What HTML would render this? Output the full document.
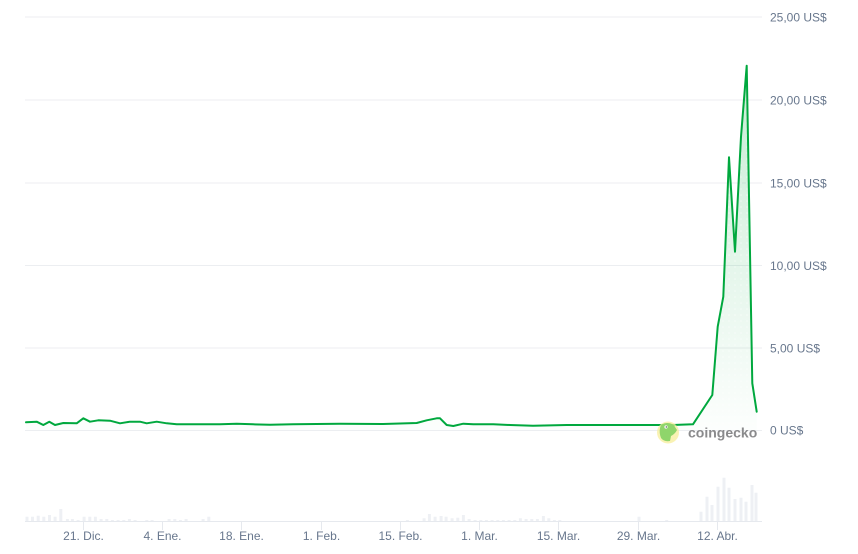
<!DOCTYPE html>
<html>
<head>
<meta charset="utf-8">
<style>
html,body{margin:0;padding:0;background:#fff;}
svg{display:block;}
text{font-family:"Liberation Sans",sans-serif;}
</style>
</head>
<body>
<svg width="858" height="554" viewBox="0 0 858 554" xmlns="http://www.w3.org/2000/svg">
<defs>
<linearGradient id="fillg" x1="0" y1="66" x2="0" y2="430" gradientUnits="userSpaceOnUse">
<stop offset="0" stop-color="#00a83e" stop-opacity="0.22"/>
<stop offset="1" stop-color="#00a83e" stop-opacity="0.01"/>
</linearGradient>
<pattern id="dots" width="6" height="6" patternUnits="userSpaceOnUse">
<circle cx="3" cy="3" r="0.8" fill="#fff" fill-opacity="0.5"/>
</pattern>
<path id="price" d="M26,422.3 L36.7,421.7 L43.3,425 L49.3,421.7 L55,425 L63.3,423 L76.7,423.3 L83.3,418.3 L90,421.7 L98.3,420.3 L110,420.7 L120,423.3 L130,421.7 L140,421.7 L146.7,423.3 L156.7,421.7 L166.7,423.3 L176.7,424.3 L186.7,424.3 L220,424.3 L236.7,423.7 L253,424.3 L270,424.7 L293,424.3 L340,423.7 L383,424 L416.7,423 L426.7,420.3 L436.7,418.3 L440,418.3 L446.7,425 L453.3,426 L463.3,423.7 L473.3,424.3 L493.3,424.3 L510,425 L533,425.7 L566.7,425 L633,425 L673,425 L693,424.3 L712.3,395 L717.7,326.7 L723.3,296.7 L729,157.3 L735,251.7 L741,136.7 L746.7,65.7 L752.3,383.3 L756.7,411.7"/>
</defs>

<path d="M25 17H762M25 100H762M25 183H762M25 265.5H762M25 348H762M25 430.5H762" stroke="#eceef1" stroke-width="1" fill="none"/>

<g fill="#68778d" font-size="12">
<text x="770" y="21.5">25,00 US$</text>
<text x="770" y="104.5">20,00 US$</text>
<text x="770" y="187.5">15,00 US$</text>
<text x="770" y="270">10,00 US$</text>
<text x="770" y="352.5">5,00 US$</text>
<text x="770" y="434.5">0 US$</text>
</g>

<path d="M26,422.3 L36.7,421.7 L43.3,425 L49.3,421.7 L55,425 L63.3,423 L76.7,423.3 L83.3,418.3 L90,421.7 L98.3,420.3 L110,420.7 L120,423.3 L130,421.7 L140,421.7 L146.7,423.3 L156.7,421.7 L166.7,423.3 L176.7,424.3 L186.7,424.3 L220,424.3 L236.7,423.7 L253,424.3 L270,424.7 L293,424.3 L340,423.7 L383,424 L416.7,423 L426.7,420.3 L436.7,418.3 L440,418.3 L446.7,425 L453.3,426 L463.3,423.7 L473.3,424.3 L493.3,424.3 L510,425 L533,425.7 L566.7,425 L633,425 L673,425 L693,424.3 L712.3,395 L717.7,326.7 L723.3,296.7 L729,157.3 L735,251.7 L741,136.7 L746.7,65.7 L752.3,383.3 L756.7,411.7 V430 H26 Z" fill="url(#fillg)"/>
<path d="M693,424.3 L712.3,395 L717.7,326.7 L723.3,296.7 L729,157.3 L735,251.7 L741,136.7 L746.7,65.7 L752.3,383.3 L756.7,411.7 V430 H693 Z" fill="url(#dots)"/>

<path fill="#eef0f4" d="M25.5 516.7h3V521.3h-3zM31 516.7h3V521.3h-3zM36.7 515.7h3V521.3h-3zM42.3 516.7h3V521.3h-3zM48 515h3V521.3h-3zM53.6 516.7h3V521.3h-3zM59.3 509h3V521.3h-3zM65.9 519h3V521.3h-3zM70.9 519h3V521.3h-3zM76.6 520h3V521.3h-3zM82.6 516.7h3V521.3h-3zM88.3 516.7h3V521.3h-3zM93.9 516.7h3V521.3h-3zM99.6 519h3V521.3h-3zM105.3 519h3V521.3h-3zM110.9 520h3V521.3h-3zM116.6 520h3V521.3h-3zM122.3 520h3V521.3h-3zM127.9 519h3V521.3h-3zM133.6 520h3V521.3h-3zM145.3 520h3V521.3h-3zM150.6 520h3V521.3h-3zM167.6 519h3V521.3h-3zM173.3 519h3V521.3h-3zM178.9 520h3V521.3h-3zM184.6 519h3V521.3h-3zM201.6 519h3V521.3h-3zM207.3 516.7h3V521.3h-3zM405.9 520h3V521.3h-3zM422.6 518.3h3V521.3h-3zM427.9 514h3V521.3h-3zM433.6 516.7h3V521.3h-3zM439.6 516h3V521.3h-3zM444.6 516.7h3V521.3h-3zM450.6 518.3h3V521.3h-3zM456.3 517.7h3V521.3h-3zM461.9 515h3V521.3h-3zM467.6 519h3V521.3h-3zM473.6 520h3V521.3h-3zM479.3 520h3V521.3h-3zM484.9 520h3V521.3h-3zM490.6 520h3V521.3h-3zM496.3 520h3V521.3h-3zM501.9 520h3V521.3h-3zM507.6 520h3V521.3h-3zM513.3 520h3V521.3h-3zM518.9 518.3h3V521.3h-3zM524.6 519h3V521.3h-3zM530.3 519h3V521.3h-3zM535.9 519h3V521.3h-3zM541.9 516h3V521.3h-3zM547.3 518.3h3V521.3h-3zM552.9 520h3V521.3h-3zM558.3 520h3V521.3h-3zM637.5 516.7h3V521.3h-3zM665.2 520h3V521.3h-3zM699.5 511.7h3V521.3h-3zM705.5 496.7h3V521.3h-3zM710.5 505h3V521.3h-3zM716.5 486.7h3V521.3h-3zM722.5 477.7h3V521.3h-3zM727.5 487.7h3V521.3h-3zM733.5 499h3V521.3h-3zM739.5 497.7h3V521.3h-3zM744.5 501.7h3V521.3h-3zM750.5 485h3V521.3h-3zM754.5 492.7h3V521.3h-3z"/>

<path d="M25 521.5H762M83.5 521.5V530M162.5 521.5V530M241.5 521.5V530M321.5 521.5V530M400.5 521.5V530M479.5 521.5V530M558.5 521.5V530M638.5 521.5V530M717.5 521.5V530" stroke="#e6e9ee" stroke-width="1" fill="none"/>

<g fill="#68778d" font-size="12" text-anchor="middle">
<text x="83.5" y="540">21. Dic.</text>
<text x="162.5" y="540">4. Ene.</text>
<text x="241.5" y="540">18. Ene.</text>
<text x="321.5" y="540">1. Feb.</text>
<text x="400.5" y="540">15. Feb.</text>
<text x="479.5" y="540">1. Mar.</text>
<text x="558.5" y="540">15. Mar.</text>
<text x="638.5" y="540">29. Mar.</text>
<text x="717.5" y="540">12. Abr.</text>
</g>

<use href="#price" fill="none" stroke="#00a83e" stroke-width="2" stroke-linejoin="round" stroke-linecap="round"/>

<circle cx="668" cy="432.5" r="11" fill="#f7ee9a" fill-opacity="0.75"/>
<path d="M660,428 Q661,423 667,423 Q673,423 675,427 L677,430 Q675,434 671,436 L670,441 Q664,442 661,438 Q659,433 660,428 Z" fill="#8fd56b"/>
<circle cx="666" cy="427" r="1.6" fill="#fff"/>
<circle cx="666.3" cy="427" r="0.7" fill="#555"/>
<text x="688" y="437.5" font-size="14" font-weight="bold" fill="#8a8a8c">coingecko</text>
</svg>
</body>
</html>
